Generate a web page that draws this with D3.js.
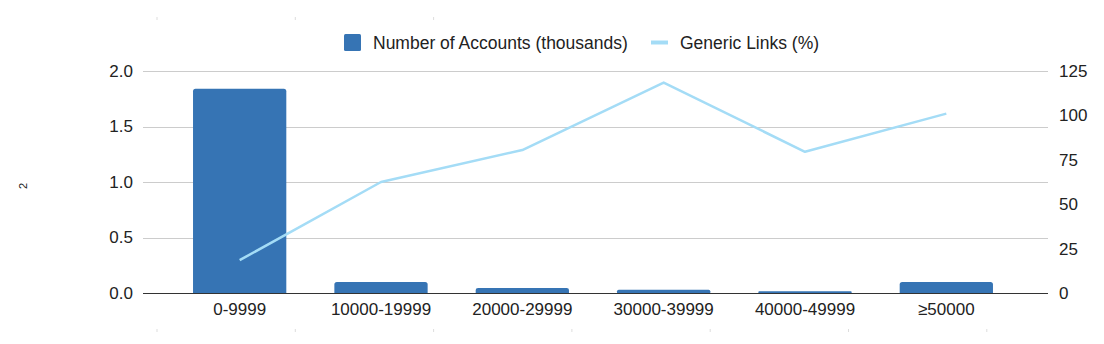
<!DOCTYPE html>
<html>
<head>
<meta charset="utf-8">
<script src="https://cdn.jsdelivr.net/npm/d3@7"></script>
<style>
  html, body { margin: 0; padding: 0; background: #fff; }
  text { font-family: "Liberation Sans", Arial, Helvetica, sans-serif; fill: #222; }
</style>
</head>
<body>
<svg id="chart" width="1104" height="344"></svg>
<script>
// Account size buckets
const categories = ["0-9999", "10000-19999", "20000-29999", "30000-39999", "40000-49999", "\u226550000"];
// Number of accounts per bucket (thousands)
const accounts = [1.84, 0.10, 0.045, 0.03, 0.015, 0.10];
// Share of generic links per bucket (%)
const genericLinks = [18.5, 62.5, 80.5, 118.5, 79.5, 101];
// Axis ticks
const leftTicks = [0, 0.5, 1.0, 1.5, 2.0];
const rightTicks = [0, 25, 50, 75, 100, 125];
const seriesNames = ["Number of Accounts (thousands)", "Generic Links (%)"];

const barColor = "#3674b4";
const lineColor = "#a4dcf6";
const FONT = "Liberation Sans, Arial, sans-serif";

const svg = d3.select("#chart");

const plot = { left: 143, right: 1048, top: 71, bottom: 293 };

const x = d3.scaleBand()
  .domain(categories)
  .range([169, 1017])
  .paddingInner(0.34)
  .paddingOuter(0.17);

const yL = d3.scaleLinear().domain([0, 2]).range([plot.bottom, plot.top]);
const yR = d3.scaleLinear().domain([0, 125]).range([plot.bottom, plot.top]);

// Faint page guide marks above and below the chart
const guideXs = d3.range(0, 7).map(i => 157 + i * 138.3);
svg.append("g").selectAll("line")
  .data(guideXs.slice(0, 3))
  .join("line")
  .attr("x1", d => d).attr("x2", d => d)
  .attr("y1", 17).attr("y2", 20)
  .attr("stroke", "#ddd").attr("stroke-width", 1);
svg.append("g").selectAll("line")
  .data(guideXs)
  .join("line")
  .attr("x1", d => d).attr("x2", d => d)
  .attr("y1", 329).attr("y2", 332)
  .attr("stroke", "#ddd").attr("stroke-width", 1);

// Gridlines
svg.append("g")
  .selectAll("line")
  .data(leftTicks.filter(d => d !== 0))
  .join("line")
  .attr("x1", plot.left).attr("x2", plot.right)
  .attr("y1", d => Math.round(yL(d)) + 0.5)
  .attr("y2", d => Math.round(yL(d)) + 0.5)
  .attr("stroke", "#cccccc").attr("stroke-width", 1);

// Left axis labels
const leftAxis = d3.axisLeft(yL).tickValues(leftTicks).tickFormat(d3.format(".1f")).tickSize(0).tickPadding(0);
const gL = svg.append("g").attr("transform", `translate(133,0)`).call(leftAxis);
gL.select(".domain").remove();
gL.selectAll("text").attr("font-size", 17).attr("fill", "#222").attr("font-family", FONT);

// Right axis labels
const rightAxis = d3.axisRight(yR).tickValues(rightTicks).tickSize(0).tickPadding(0);
const gR = svg.append("g").attr("transform", `translate(1059,0)`).call(rightAxis);
gR.select(".domain").remove();
gR.selectAll("text").attr("font-size", 17).attr("fill", "#222").attr("font-family", FONT);

// Bars
svg.append("g")
  .selectAll("path")
  .data(categories.map((c, i) => ({ c, v: accounts[i] })))
  .join("path")
  .attr("fill", barColor)
  .attr("d", d => {
    const x0 = x(d.c), w = x.bandwidth();
    const y0 = yL(d.v), y1 = yL(0);
    const r = Math.min(2.5, (y1 - y0) / 2);
    return `M${x0},${y1} L${x0},${y0 + r} Q${x0},${y0} ${x0 + r},${y0} L${x0 + w - r},${y0} Q${x0 + w},${y0} ${x0 + w},${y0 + r} L${x0 + w},${y1} Z`;
  });

// Baseline
svg.append("line")
  .attr("x1", plot.left).attr("x2", plot.right)
  .attr("y1", plot.bottom + 0.5).attr("y2", plot.bottom + 0.5)
  .attr("stroke", "#333").attr("stroke-width", 1);

// Line series
const line = d3.line()
  .x((d, i) => x(categories[i]) + x.bandwidth() / 2)
  .y(d => yR(d));
svg.append("path")
  .datum(genericLinks)
  .attr("fill", "none")
  .attr("stroke", lineColor)
  .attr("stroke-width", 2.5)
  .attr("stroke-linejoin", "round")
  .attr("d", line);

// Category labels
const bottomAxis = d3.axisBottom(x).tickSize(0).tickPadding(0);
const gB = svg.append("g").attr("transform", `translate(0,303)`).call(bottomAxis);
gB.select(".domain").remove();
gB.selectAll("text").attr("font-size", 17).attr("fill", "#222").attr("dy", "0.71em").attr("font-family", FONT);

// Legend
const legend = svg.append("g");
legend.append("rect")
  .attr("x", 344).attr("y", 34).attr("width", 17).attr("height", 17)
  .attr("rx", 1.5).attr("fill", barColor);
legend.append("text")
  .attr("x", 373).attr("y", 49).attr("font-size", 17.5)
  .text(seriesNames[0]);
legend.append("line")
  .attr("x1", 651).attr("x2", 668).attr("y1", 42.5).attr("y2", 42.5)
  .attr("stroke", lineColor).attr("stroke-width", 4);
legend.append("text")
  .attr("x", 680).attr("y", 49).attr("font-size", 17.5)
  .text(seriesNames[1]);

// Clipped vertical axis title remnant
svg.append("text")
  .attr("transform", "translate(27,186) rotate(-90)")
  .attr("text-anchor", "middle")
  .attr("font-size", 11)
  .text("2");
</script>
</body>
</html>
